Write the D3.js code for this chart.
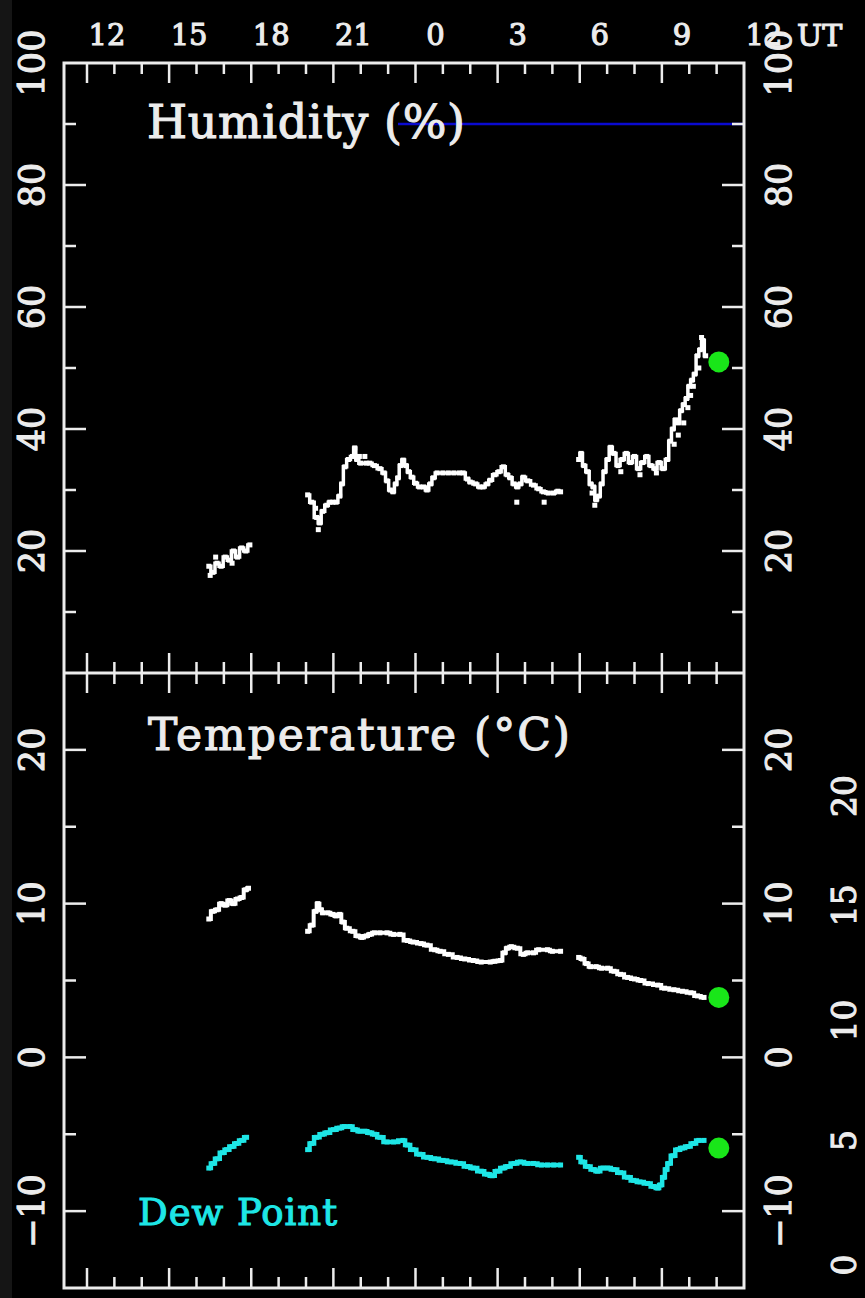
<!DOCTYPE html>
<html>
<head>
<meta charset="utf-8">
<script src="https://cdn.jsdelivr.net/npm/d3@7"></script>
<style>
  html, body { margin: 0; padding: 0; background: #000; }
  svg { display: block; }
</style>
</head>
<body>
<svg id="chart" width="865" height="1298"></svg>
<script>
// Time is in hours UT counted from 0 UT of the first day (values above 24 fall on the next day).
const timeTicks = [12, 15, 18, 21, 24, 27, 30, 33, 36];
const timeLabels = ["12", "15", "18", "21", "0", "3", "6", "9", "12"];
const humidityTicks = [20, 40, 60, 80, 100];
const temperatureTicks = [-10, 0, 10, 20];
const outerTickLabels = ["0", "5", "10", "15", "20"];
const outerTickAt = [-13.5, -5.4, 2.4, 9.9, 17.0];

// Relative humidity (%)
const humidityTime = [
  16.45, 16.6, 16.75, 16.9, 17.05, 17.2, 17.35, 17.5, 17.65, 17.8, 17.95,
  20.06, 20.21, 20.39, 20.5, 20.61, 20.76, 20.87, 20.98, 21.1, 21.23, 21.31, 21.42, 21.55, 21.7, 21.78, 21.86,
  22.0, 22.2, 22.33, 22.5, 22.7, 22.85, 22.96, 23.08, 23.18, 23.28, 23.36, 23.45, 23.55, 23.65, 23.75, 23.87,
  24.0, 24.15, 24.3, 24.42, 24.55, 24.65, 24.79, 25.0, 25.2, 25.4, 25.6, 25.74, 25.9, 26.0, 26.2, 26.35,
  26.47, 26.62, 26.73, 26.9, 27.05, 27.21, 27.35, 27.46, 27.6, 27.72, 27.83, 27.94, 28.1, 28.31, 28.5,
  28.67, 28.85, 29.04, 29.2, 29.3,
  29.96, 30.05, 30.15, 30.29, 30.4, 30.5, 30.6, 30.7, 30.8, 30.9, 31.02, 31.13, 31.25, 31.4, 31.55, 31.7,
  31.85, 32.0, 32.15, 32.3, 32.45, 32.6, 32.75, 32.9, 33.05, 33.2, 33.3, 33.4, 33.5, 33.6, 33.7, 33.8,
  33.9, 34.0, 34.1, 34.2, 34.3, 34.4, 34.5, 34.6
];
const humidityValue = [
  17.5, 16.5, 18, 17.5, 19, 18.5, 20, 19, 20.5, 20, 21,
  29.2, 28, 25.5, 24.6, 26.5, 27.5, 28, 28, 28, 29, 31, 33.8, 35, 35.5, 36.9, 35,
  34.4, 34.4, 34.4, 34, 33.5, 32.8, 31.5, 30, 29.7, 31, 32, 34, 34.9, 34, 33, 32.1,
  31.1, 30.5, 30.5, 30, 31, 32, 32.8, 32.8, 32.8, 32.8, 32.8, 32.8, 31.8, 31.3, 31, 30.5,
  30.5, 31, 31.6, 32.5, 33, 33.8, 32.5, 32, 31, 30.5, 31, 32.1, 31.5, 30.8, 30.2,
  29.7, 29.5, 29.5, 29.8, 29.7,
  35, 36, 34, 33, 31, 30.5, 28.4, 29, 31, 33, 35, 37, 36, 34, 35, 36,
  34.5, 35.5, 33.5, 34.5, 35.5, 34, 33.5, 34.5, 33.5, 35, 38, 40, 41.5, 41, 43, 44,
  45, 47, 48, 49, 52, 53, 54.5, 52
];
// Isolated humidity readings away from the main trace
const humidityScatterTime = [
  16.5, 16.7, 17.3, 20.35, 20.45, 21.95, 22.15, 27.7, 28.7, 30.45, 30.55,
  31.5, 32.2, 32.8, 33.45, 33.6, 33.8, 33.95, 34.05, 34.15, 34.35, 34.45
];
const humidityScatterValue = [
  16, 19, 18, 27, 23.5, 35.5, 35.5, 28, 28, 29.5, 27.5,
  33, 32.5, 32.8, 37.5, 39, 41, 43.5, 45.5, 47, 50, 55
];

// Air temperature (°C)
const temperatureTime = [
  16.45, 16.6, 16.75, 16.9, 17.05, 17.2, 17.35, 17.5, 17.65, 17.8, 17.9,
  20.06, 20.21, 20.35, 20.43, 20.55, 20.61, 20.8, 20.98, 21.1, 21.23, 21.35, 21.49, 21.71, 21.9, 22.04,
  22.2, 22.33, 22.5, 22.7, 22.96, 23.2, 23.43, 23.7, 23.91, 24.2, 24.42, 24.7, 24.9, 25.2, 25.52, 25.8,
  26.11, 26.4, 26.73, 26.9, 27.1, 27.25, 27.35, 27.5, 27.72, 27.94, 28.1, 28.31, 28.5, 28.82, 29.0, 29.3,
  29.96, 30.1, 30.25, 30.4, 30.6, 30.8, 31.02, 31.25, 31.49, 31.75, 32.0, 32.23, 32.5, 32.85, 33.1,
  33.44, 33.75, 34.06, 34.3, 34.54
];
const temperatureValue = [
  9.0, 9.5, 9.6, 10.0, 9.9, 10.2, 10.0, 10.3, 10.4, 10.9, 11.0,
  8.2, 8.6, 9.5, 10.0, 9.6, 9.4, 9.4, 9.3, 9.2, 9.3, 8.8, 8.4, 8.2, 7.9, 7.8,
  7.9, 8.0, 8.1, 8.1, 8.1, 8.0, 8.0, 7.6, 7.5, 7.4, 7.3, 7.0, 6.9, 6.7, 6.5, 6.4,
  6.3, 6.2, 6.2, 6.25, 6.3, 6.8, 7.1, 7.2, 7.1, 6.7, 6.8, 6.8, 7.0, 7.0, 6.9, 6.9,
  6.5, 6.4, 6.1, 5.9, 5.9, 5.8, 5.8, 5.6, 5.4, 5.2, 5.1, 5.0, 4.8, 4.7, 4.5,
  4.4, 4.3, 4.2, 4.0, 3.9
];

// Dew point (°C)
const dewPointTime = [
  16.45, 16.6, 16.75, 16.95, 17.1, 17.3, 17.46, 17.65, 17.83,
  20.06, 20.2, 20.39, 20.6, 20.76, 21.0, 21.23, 21.4, 21.6, 21.8, 21.97, 22.15, 22.33, 22.5, 22.7, 22.96,
  23.2, 23.54, 23.7, 23.91, 24.15, 24.42, 24.7, 25.01, 25.3, 25.63, 25.9, 26.11, 26.4, 26.62, 26.8, 26.99,
  27.2, 27.35, 27.6, 27.83, 28.1, 28.31, 28.6, 28.82, 29.05, 29.3,
  29.96, 30.1, 30.29, 30.5, 30.65, 30.85, 31.02, 31.25, 31.49, 31.75, 31.97, 32.2, 32.48, 32.7, 32.85,
  32.95, 33.07, 33.15, 33.25, 33.4, 33.58, 33.75, 33.95, 34.15, 34.35, 34.54
];
const dewPointValue = [
  -7.2, -6.9, -6.6, -6.2, -6.0, -5.8, -5.6, -5.4, -5.2,
  -6.0, -5.6, -5.2, -5.0, -4.9, -4.7, -4.6, -4.5, -4.5, -4.7, -4.8, -4.8, -4.9, -5.0, -5.2, -5.5,
  -5.5, -5.4, -5.7, -6.0, -6.3, -6.5, -6.6, -6.7, -6.8, -6.9, -7.1, -7.2, -7.4, -7.6, -7.7, -7.4,
  -7.2, -7.1, -6.9, -6.8, -6.9, -6.9, -7.0, -7.0, -7.0, -7.0,
  -6.5, -6.8, -7.1, -7.3, -7.4, -7.2, -7.2, -7.3, -7.5, -7.8, -8.0, -8.1, -8.2, -8.4, -8.5,
  -8.3, -7.8, -7.3, -6.9, -6.4, -6.0, -5.9, -5.8, -5.6, -5.4, -5.4
];

// Latest observation, marked in green
const latestTime = 35.08;
const latestHumidity = 51;
const latestTemperature = 3.9;
const latestDewPoint = -5.9;

// Reference level on the humidity panel
const humidityLimit = 90;
const humidityLimitFrom = 23.36;

// ---------------------------------------------------------------
const svg = d3.select("#chart");
const W = 865, H = 1298;
const plotLeft = 64, plotRight = 744, plotTop = 63, plotMid = 673, plotBottom = 1288;
const FG = "#ececec";
const CYAN = "#1ee6e6";
const FONT = "'DejaVu Serif', 'Liberation Serif', serif";

svg.append("rect").attr("width", W).attr("height", H).attr("fill", "#000");
svg.append("rect").attr("width", 12).attr("height", H).attr("fill", "#151515");

const x = d3.scaleLinear().domain([11.16, 36]).range([plotLeft, plotRight]);
const yHum = d3.scaleLinear().domain([0, 100]).range([plotMid, plotTop]);
const yTemp = d3.scaleLinear().domain([-15, 25]).range([plotBottom, plotMid]);

// Split a series into runs wherever the record has a gap
function runs(t, v) {
  const out = [];
  let cur = [];
  t.forEach((ti, i) => {
    if (cur.length && ti - cur[cur.length - 1][0] > 0.45) { out.push(cur); cur = []; }
    cur.push([ti, v[i]]);
  });
  if (cur.length) out.push(cur);
  return out;
}

function drawSeries(t, v, yScale, color, width) {
  const g = svg.append("g");
  const line = d3.line().x(d => x(d[0])).y(d => yScale(d[1])).curve(d3.curveStep);
  runs(t, v).forEach(r => {
    g.append("path").attr("d", line(r)).attr("fill", "none")
      .attr("stroke", color).attr("stroke-width", width).attr("stroke-linejoin", "miter");
  });
  drawDots(g, t, v, yScale, color);
}
function drawDots(g, t, v, yScale, color) {
  g.selectAll("rect.dot").data(t.map((ti, i) => [ti, v[i]])).join("rect")
    .attr("class", "dot")
    .attr("x", d => x(d[0]) - 2.5).attr("y", d => yScale(d[1]) - 2.5)
    .attr("width", 5).attr("height", 5).attr("fill", color);
}

// Blue reference line
svg.append("line")
  .attr("x1", x(humidityLimitFrom)).attr("x2", plotRight)
  .attr("y1", yHum(humidityLimit)).attr("y2", yHum(humidityLimit))
  .attr("stroke", "#0a0ad0").attr("stroke-width", 2.5);

drawSeries(humidityTime, humidityValue, yHum, "#ffffff", 3.5);
drawDots(svg.append("g"), humidityScatterTime, humidityScatterValue, yHum, "#ffffff");
drawSeries(temperatureTime, temperatureValue, yTemp, "#ffffff", 4);
drawSeries(dewPointTime, dewPointValue, yTemp, CYAN, 4.5);

// Latest values
const green = "#19e619";
[[latestHumidity, yHum], [latestTemperature, yTemp], [latestDewPoint, yTemp]].forEach(([v, ys]) => {
  svg.append("circle").attr("cx", x(latestTime)).attr("cy", ys(v)).attr("r", 10.5).attr("fill", green);
});

// Frame
const frame = svg.append("g").attr("stroke", FG).attr("stroke-width", 3).attr("fill", "none");
frame.append("rect").attr("x", plotLeft).attr("y", plotTop)
  .attr("width", plotRight - plotLeft).attr("height", plotBottom - plotTop);
frame.append("line").attr("x1", plotLeft).attr("x2", plotRight).attr("y1", plotMid).attr("y2", plotMid);

// Time ticks: every hour, long every three hours
const hourTicks = d3.range(12, 36, 1);
const tk = svg.append("g").attr("stroke", FG).attr("stroke-width", 2.5);
hourTicks.forEach(h => {
  const len = (h % 3 === 0) ? 20 : 11;
  const xx = x(h);
  tk.append("line").attr("x1", xx).attr("x2", xx).attr("y1", plotTop).attr("y2", plotTop + len);
  tk.append("line").attr("x1", xx).attr("x2", xx).attr("y1", plotMid - len).attr("y2", plotMid + len);
  tk.append("line").attr("x1", xx).attr("x2", xx).attr("y1", plotBottom - len).attr("y2", plotBottom);
});

// Vertical axis ticks on both sides
function yTicksFor(values, ys, isMajor) {
  values.forEach(v => {
    const len = isMajor(v) ? 22 : 12;
    const yy = ys(v);
    tk.append("line").attr("x1", plotLeft).attr("x2", plotLeft + len).attr("y1", yy).attr("y2", yy);
    tk.append("line").attr("x1", plotRight - len).attr("x2", plotRight).attr("y1", yy).attr("y2", yy);
  });
}
yTicksFor(d3.range(10, 100, 10), yHum, v => v % 20 === 0);
yTicksFor(d3.range(-10, 25, 5), yTemp, v => v % 10 === 0);

// Text helpers
function hText(str, xPos, baseY, size, color, anchor, width) {
  const t = svg.append("text")
    .attr("x", xPos).attr("y", baseY)
    .attr("text-anchor", anchor || "middle")
    .attr("font-family", FONT).attr("font-size", size)
    .attr("fill", color).attr("stroke", color).attr("stroke-width", 1.1)
    .text(str);
  if (width) t.attr("textLength", width).attr("lengthAdjust", "spacing");
  return t;
}
function vText(str, cx, cy, size, color) {
  // rotated to read bottom-to-top, centred on (cx, cy)
  const glyphH = size * 0.73;
  return svg.append("text")
    .attr("transform", `translate(${cx + glyphH / 2},${cy}) rotate(-90)`)
    .attr("text-anchor", "middle")
    .attr("font-family", FONT).attr("font-size", size)
    .attr("fill", color).attr("stroke", color).attr("stroke-width", 1.1)
    .text(str);
}

// Top time labels
timeTicks.forEach((h, i) => hText(timeLabels[i], x(h) + 20, 45, 29, FG));
hText("UT", 797, 46, 30, FG, "start");

// Left and right axis labels
const fmt = v => v < 0 ? "\u2212" + Math.abs(v) : String(v);
humidityTicks.forEach(v => {
  vText(fmt(v), 31, yHum(v), 35, FG);
  vText(fmt(v), 778, yHum(v), 35, FG);
});
temperatureTicks.forEach(v => {
  vText(fmt(v), 31, yTemp(v), 35, FG);
  vText(fmt(v), 778, yTemp(v), 35, FG);
});
outerTickLabels.forEach((s, i) => vText(s, 844, yTemp(outerTickAt[i]), 33, FG));

// Panel titles
hText("Humidity (%)", 147, 138, 46, FG, "start", 318);
hText("Temperature (\u00B0C)", 148, 750, 44, FG, "start", 422);
hText("Dew Point", 138, 1225, 37, CYAN, "start", 199);
</script>
</body>
</html>
